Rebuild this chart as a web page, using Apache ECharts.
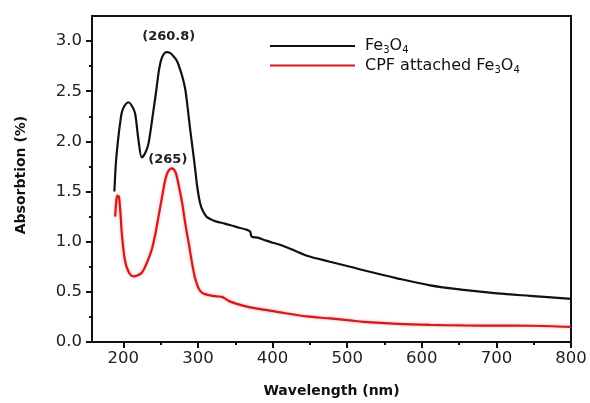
<!DOCTYPE html>
<html>
<head>
<meta charset="utf-8">
<script src="https://cdn.jsdelivr.net/npm/echarts@6/dist/echarts.min.js"></script>
<style>
  html, body { margin: 0; padding: 0; background: #fff; }
  #chart { width: 590px; height: 403px; }
</style>
</head>
<body>
<div id="chart"></div>
<script>
// Fe3O4 curve (wavelength nm / absorption)
var fe3o4Wl = [188, 190, 193, 196, 198, 202, 206.7, 211, 215.7, 220, 224.7, 229, 233.5, 240, 244, 248, 252, 258, 263, 267, 272, 276, 280, 283, 286, 289.4, 293, 296, 299, 303, 307, 312, 318, 325, 336, 350, 365, 370, 372, 380, 388, 400, 410, 430, 446, 477, 504, 522, 567, 611, 656, 701, 745, 800];
var fe3o4Abs = [1.50, 1.78, 2.02, 2.20, 2.29, 2.36, 2.39, 2.36, 2.28, 2.03, 1.84, 1.88, 1.97, 2.29, 2.50, 2.72, 2.84, 2.89, 2.88, 2.85, 2.80, 2.72, 2.62, 2.52, 2.35, 2.13, 1.92, 1.74, 1.55, 1.38, 1.30, 1.245, 1.22, 1.20, 1.18, 1.15, 1.12, 1.10, 1.05, 1.04, 1.02, 0.99, 0.97, 0.91, 0.86, 0.80, 0.75, 0.715, 0.635, 0.565, 0.52, 0.485, 0.46, 0.43];

// CPF attached Fe3O4 curve
var cpfWl = [189, 190.5, 192, 194, 196, 198, 202, 207, 213, 218, 224.7, 231, 238, 243, 247, 252, 256, 260, 265, 270, 274, 279, 283, 288, 292, 296, 300, 303, 308, 316, 325, 332, 337, 341, 352, 370, 390, 410, 446, 477, 504, 522, 567, 611, 656, 701, 745, 800];
var cpfAbs = [1.25, 1.40, 1.46, 1.45, 1.30, 1.08, 0.82, 0.70, 0.655, 0.66, 0.69, 0.78, 0.92, 1.08, 1.245, 1.45, 1.61, 1.70, 1.73, 1.69, 1.57, 1.38, 1.18, 0.97, 0.79, 0.64, 0.55, 0.51, 0.48, 0.465, 0.455, 0.45, 0.43, 0.41, 0.38, 0.345, 0.32, 0.295, 0.255, 0.235, 0.215, 0.20, 0.18, 0.17, 0.165, 0.163, 0.162, 0.15];

var peakLabels = ['(260.8)', '(265)'];
var peakPos = [[260.8, 2.89], [265, 1.73]];

var xMajor = [200, 300, 400, 500, 600, 700, 800];
var xMinor = [250, 350, 450, 550, 650, 750];
var yMajor = [0, 0.5, 1.0, 1.5, 2.0, 2.5, 3.0];
var yMinor = [0.25, 0.75, 1.25, 1.75, 2.25, 2.75];

function pairs(xs, ys) {
    var out = [];
    for (var i = 0; i < xs.length; i++) out.push([xs[i], ys[i]]);
    return out;
}

var chart = echarts.init(document.getElementById('chart'));
var fontFam = '"DejaVu Sans", sans-serif';
var subRich = {
    sub: { fontSize: 10, fontFamily: fontFam, color: '#111', padding: [9, 0, 0, 0] }
};

var option = {
    animation: false,
    grid: {
        left: 92, right: 19, top: 16, bottom: 56,
        show: true, borderColor: '#111', borderWidth: 2
    },
    legend: {
        orient: 'vertical',
        left: 265,
        top: 33,
        itemWidth: 85,
        itemHeight: 2,
        itemGap: 2,
        icon: 'rect',
        textStyle: { fontSize: 16, fontFamily: fontFam, color: '#111', padding: [0, 0, 0, 5], rich: subRich },
        formatter: function (name) {
            return name === 'Fe3O4' ? 'Fe{sub|3}O{sub|4}' : 'CPF attached Fe{sub|3}O{sub|4}';
        },
        data: ['Fe3O4', 'CPF attached Fe3O4']
    },
    xAxis: [{
        type: 'value', min: 158, max: 800,
        name: 'Wavelength (nm)', nameLocation: 'middle', nameGap: 42,
        nameTextStyle: { fontSize: 14, fontWeight: 'bold', fontFamily: fontFam, color: '#111' },
        axisLine: { lineStyle: { color: '#111', width: 2 } },
        axisTick: { customValues: xMajor, length: 6, lineStyle: { color: '#111', width: 2 } },
        axisLabel: { customValues: xMajor, fontSize: 16.5, fontFamily: fontFam, color: '#222', margin: 8 },
        splitLine: { show: false }
    }, {
        type: 'value', min: 158, max: 800, position: 'bottom',
        axisLine: { show: false },
        axisTick: { customValues: xMinor, length: 3, lineStyle: { color: '#111', width: 2 } },
        axisLabel: { show: false },
        splitLine: { show: false }
    }],
    yAxis: [{
        type: 'value', min: 0, max: 3.25,
        name: 'Absorbtion (%)', nameLocation: 'middle', nameGap: 64,
        nameTextStyle: { fontSize: 14, fontWeight: 'bold', fontFamily: fontFam, color: '#111', padding: [0, 0, 0, 8] },
        axisLine: { show: true, lineStyle: { color: '#111', width: 2 } },
        axisTick: { show: true, customValues: yMajor, length: 6, lineStyle: { color: '#111', width: 2 } },
        axisLabel: {
            customValues: yMajor, fontSize: 16.5, fontFamily: fontFam, color: '#222', margin: 10,
            formatter: function (v) { return v.toFixed(1); }
        },
        splitLine: { show: false }
    }, {
        type: 'value', min: 0, max: 3.25, position: 'left',
        axisLine: { show: false },
        axisTick: { show: true, customValues: yMinor, length: 3, lineStyle: { color: '#111', width: 2 } },
        axisLabel: { show: false },
        splitLine: { show: false }
    }],
    series: [{
        name: 'Fe3O4', type: 'line', data: pairs(fe3o4Wl, fe3o4Abs),
        showSymbol: false, smooth: 0.3, color: '#111',
        lineStyle: { width: 2.2, color: '#111' },
        markPoint: {
            symbolSize: 0,
            label: { show: true, formatter: '{b}', fontSize: 13, fontWeight: 'bold', fontFamily: fontFam, color: '#222', offset: [0, -15] },
            data: [{ name: peakLabels[0], coord: peakPos[0] }]
        }
    }, {
        name: 'CPF attached Fe3O4', type: 'line', data: pairs(cpfWl, cpfAbs),
        showSymbol: false, smooth: 0.3, color: '#d01c1c',
        lineStyle: { width: 2.2, color: '#d01c1c', shadowColor: 'rgba(230,60,60,0.5)', shadowBlur: 3 },
        markPoint: {
            symbolSize: 0,
            label: { show: true, formatter: '{b}', fontSize: 13, fontWeight: 'bold', fontFamily: fontFam, color: '#222', offset: [-4, -9] },
            data: [{ name: peakLabels[1], coord: peakPos[1] }]
        }
    }]
};

chart.setOption(option);
</script>
</body>
</html>
